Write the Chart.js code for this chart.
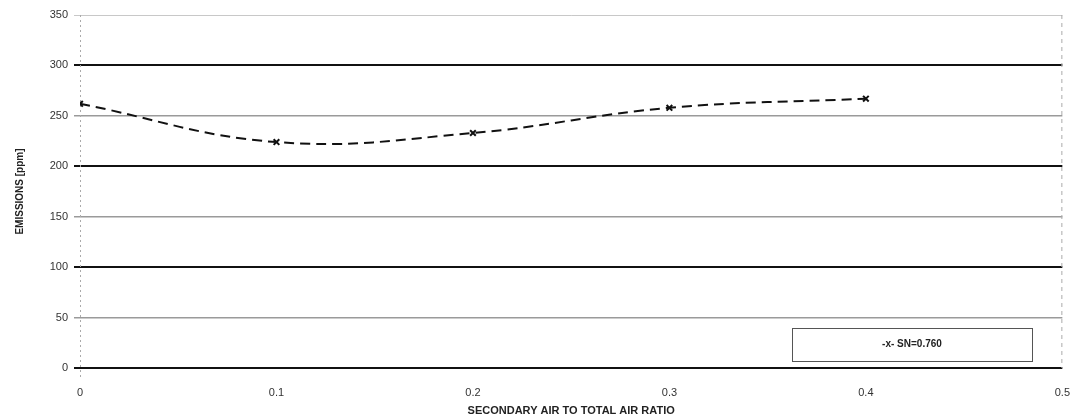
<!DOCTYPE html>
<html>
<head>
<meta charset="utf-8">
<script src="https://cdn.jsdelivr.net/npm/chart.js@4"></script>
<style>
  html, body { margin: 0; padding: 0; background: #fff; }
  #wrap { width: 1080px; height: 418px; }
</style>
</head>
<body>
<div id="wrap"><canvas id="emissionsChart" width="1080" height="418"></canvas></div>
<script>
// values
var ratios = [0, 0.1, 0.2, 0.3, 0.4];
var emissions = [262, 224, 233, 258, 267];
var seriesLabel = 'SN=0.760';
var yTicks = [0, 50, 100, 150, 200, 250, 300, 350];
var xTicks = [0, 0.1, 0.2, 0.3, 0.4, 0.5];

var points = [];
for (let i = 0; i < ratios.length; i++) {
  points[i] = { x: ratios[i], y: emissions[i] };
}

// small framed legend drawn in the lower right corner
var boxLegend = {
  id: 'boxLegend',
  afterDraw: function (chart) {
    var ctx = chart.ctx;
    var x0 = 792, y0 = 328, w = 240, h = 33;
    ctx.save();
    ctx.strokeStyle = '#555';
    ctx.lineWidth = 1;
    ctx.strokeRect(x0 + 0.5, y0 + 0.5, w, h);
    ctx.fillStyle = '#222';
    ctx.font = 'bold 10px "Liberation Sans", Arial, sans-serif';
    ctx.textBaseline = 'middle';
    ctx.textAlign = 'center';
    ctx.fillText('-x- ' + chart.data.datasets[0].label, x0 + w / 2, y0 + h / 2);
    ctx.restore();
  }
};

var ctx = document.getElementById('emissionsChart');
var chart = new Chart(ctx, {
  type: 'line',
  data: {
    datasets: [{
      label: seriesLabel,
      data: points,
      borderColor: '#111',
      borderWidth: 2,
      borderDash: [10, 6],
      tension: 0.4,
      pointStyle: 'crossRot',
      pointRadius: 4,
      pointBorderWidth: 2,
      pointBorderColor: '#111',
      fill: false
    }]
  },
  options: {
    responsive: false,
    animation: false,
    layout: { padding: { top: 15, right: 17, left: 0, bottom: 0 } },
    plugins: { legend: { display: false }, tooltip: { enabled: false } },
    scales: {
      x: {
        type: 'linear',
        min: 0,
        max: 0.5,
        afterBuildTicks: function (axis) {
          axis.ticks = xTicks.map(v => ({ value: v }));
        },
        afterFit: function (axis) { axis.height = 50; },
        grid: { display: false },
        border: { display: false },
        ticks: {
          color: '#333',
          padding: 10,
          font: { family: '"Liberation Sans", Arial, sans-serif', size: 11 },
          callback: function (v) { return String(Math.round(v * 10) / 10); }
        },
        title: {
          display: true,
          text: 'SECONDARY AIR TO TOTAL AIR RATIO',
          color: '#222',
          padding: { top: 2, bottom: 0 },
          font: { family: '"Liberation Sans", Arial, sans-serif', size: 11, weight: 'bold' }
        }
      },
      y: {
        min: 0,
        max: 350,
        afterBuildTicks: function (axis) {
          axis.ticks = yTicks.map(v => ({ value: v }));
        },
        afterFit: function (axis) { axis.width = 80; },
        border: { display: false },
        grid: {
          drawTicks: true,
          tickLength: 6,
          color: function (c) {
            var v = c.tick.value;
            if (v === 350) return '#c8c8c8';
            return (v % 100 === 0) ? '#111' : '#9a9a9a';
          },
          lineWidth: function (c) {
            var v = c.tick.value;
            if (v === 350) return 1;
            return (v % 100 === 0) ? 2 : 1.5;
          }
        },
        ticks: {
          color: '#333',
          padding: 6,
          font: { family: '"Liberation Sans", Arial, sans-serif', size: 11 }
        },
        title: {
          display: true,
          text: 'EMISSIONS [ppm]',
          color: '#222',
          padding: { top: 14, bottom: 0 },
          font: { family: '"Liberation Sans", Arial, sans-serif', size: 10, weight: 'bold' }
        }
      }
    }
  },
  plugins: [boxLegend, {
    id: 'sideFrames',
    beforeDatasetsDraw: function (chart) {
      var a = chart.chartArea, c = chart.ctx;
      c.save();
      c.strokeStyle = '#aaa';
      c.lineWidth = 1;
      c.setLineDash([2, 3]);
      c.beginPath();
      c.moveTo(a.left + 0.5, a.top);
      c.lineTo(a.left + 0.5, a.bottom + 12);
      c.stroke();
      c.setLineDash([4, 4]);
      c.beginPath();
      c.moveTo(a.right - 0.5, a.top);
      c.lineTo(a.right - 0.5, a.bottom);
      c.stroke();
      c.restore();
    }
  }]
});
</script>
</body>
</html>
